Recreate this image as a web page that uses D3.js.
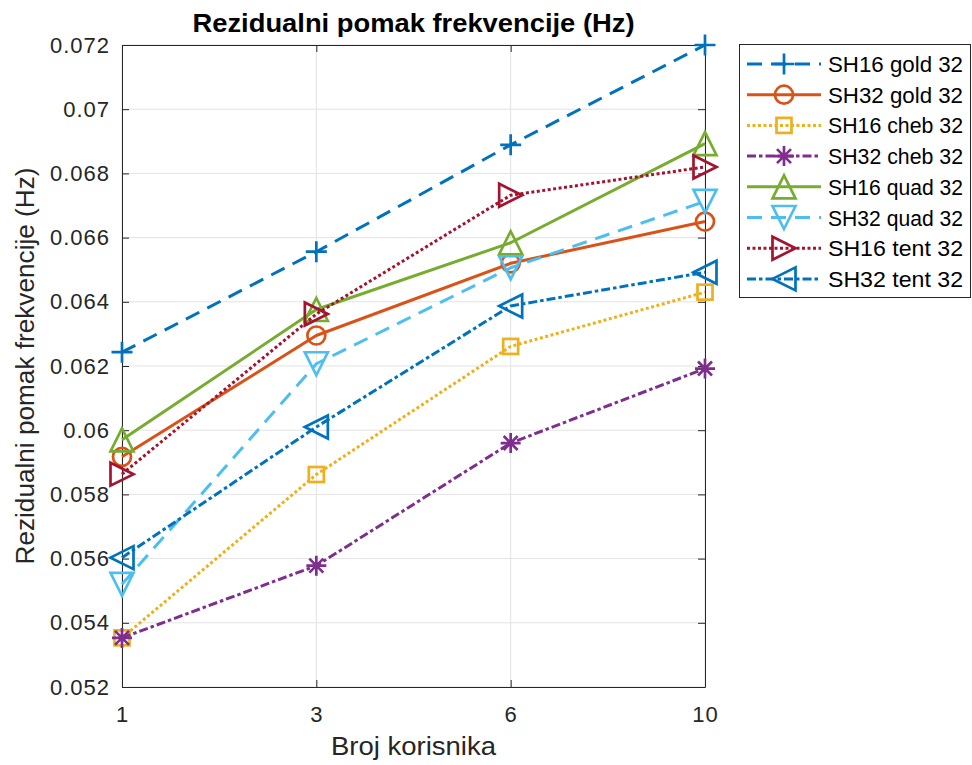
<!DOCTYPE html>
<html><head><meta charset="utf-8">
<script src="https://cdn.jsdelivr.net/npm/d3@7"></script>
<style>body{margin:0;background:#fff;} svg{display:block;font-family:"Liberation Sans",Arial,sans-serif;}</style>
</head><body>
<svg id="c" width="972" height="765"></svg>
<script>
const categories = ["1", "3", "6", "10"];
const yTicks = [0.052, 0.054, 0.056, 0.058, 0.06, 0.062, 0.064, 0.066, 0.068, 0.07, 0.072];
const yTickLabels = ["0.052","0.054","0.056","0.058","0.06","0.062","0.064","0.066","0.068","0.07","0.072"];
const seriesNames = ["SH16 gold 32","SH32 gold 32","SH16 cheb 32","SH32 cheb 32","SH16 quad 32","SH32 quad 32","SH16 tent 32","SH32 tent 32"];
const sh16gold = [0.06243, 0.06556, 0.06889, 0.0720];
const sh32gold = [0.05917, 0.06295, 0.06520, 0.06650];
const sh16cheb = [0.05353, 0.05862, 0.06261, 0.06430];
const sh32cheb = [0.05353, 0.05578, 0.05960, 0.06192];
const sh16quad = [0.05970, 0.06376, 0.06584, 0.06893];
const sh32quad = [0.05520, 0.06207, 0.06506, 0.06713];
const sh16tent = [0.05863, 0.06362, 0.06732, 0.06820];
const sh32tent = [0.05603, 0.06010, 0.06387, 0.06492];
const seriesValues = [sh16gold, sh32gold, sh16cheb, sh32cheb, sh16quad, sh32quad, sh16tent, sh32tent];

const colors = ["#0072BD","#D95319","#EDB120","#7E2F8E","#77AC30","#4DBEEE","#A2142F","#0072BD"];
const dashes = ["15,9", null, "3,2.5", "9,3,3.5,3", null, "15,9", "3,2.5", "9,3,3.5,3"];
const markers = ["plus","circle","square","star","triUp","triDown","triRight","triLeft"];

const svg = d3.select("#c");
const L = 122, R = 705, T = 45, B = 687;
const x = d3.scalePoint().domain(categories).range([L, R]).padding(0);
const y = d3.scaleLinear().domain([0.052, 0.072]).range([B, T]);

// grid
const g = svg.append("g");
g.selectAll("line.gx").data(categories).enter().append("line")
  .attr("x1", d => x(d)).attr("x2", d => x(d)).attr("y1", T).attr("y2", B)
  .attr("stroke", "#e3e3e3").attr("stroke-width", 1);
g.selectAll("line.gy").data(yTicks).enter().append("line")
  .attr("x1", L).attr("x2", R).attr("y1", d => y(d)).attr("y2", d => y(d))
  .attr("stroke", "#e3e3e3").attr("stroke-width", 1);

// axes
const axCol = "#262626";
const yAxis = d3.axisLeft(y).tickValues(yTicks).tickFormat((d, i) => yTickLabels[i]).tickSizeInner(-7).tickSizeOuter(0).tickPadding(12);
const yAxisR = d3.axisRight(y).tickValues(yTicks).tickFormat("").tickSizeInner(-7).tickSizeOuter(0);
const xAxis = d3.axisBottom(x).tickSizeInner(-7).tickSizeOuter(0).tickPadding(19);
const xAxisT = d3.axisTop(x).tickFormat("").tickSizeInner(-7).tickSizeOuter(0);
function styleAx(sel) {
  sel.selectAll("path,line").attr("stroke", axCol).attr("stroke-width", 1);
  sel.selectAll("text").attr("fill", "#262626").style("font-size", "22px").style("letter-spacing", "1px")
    .style("font-family", "'Liberation Sans',Arial,sans-serif");
}
svg.append("g").attr("transform", `translate(${L},0)`).call(yAxis).call(styleAx);
svg.append("g").attr("transform", `translate(${R},0)`).call(yAxisR).call(styleAx);
svg.append("g").attr("transform", `translate(0,${B})`).call(xAxis).call(styleAx);
svg.append("g").attr("transform", `translate(0,${T})`).call(xAxisT).call(styleAx);

// marker drawing
function drawMarker(sel, type, cx, cy, col) {
  const s = 11.5;
  let m;
  switch (type) {
    case "plus":
      m = sel.append("path").attr("d", `M${cx-10.5},${cy}H${cx+10.5}M${cx},${cy-10.5}V${cy+10.5}`); break;
    case "circle":
      m = sel.append("circle").attr("cx", cx).attr("cy", cy).attr("r", 9); break;
    case "square":
      m = sel.append("rect").attr("x", cx-7.5).attr("y", cy-7.5).attr("width", 15).attr("height", 15); break;
    case "star": {
      const a = 10, b = 7;
      m = sel.append("path").attr("d", `M${cx-a},${cy}H${cx+a}M${cx},${cy-a}V${cy+a}M${cx-b},${cy-b}L${cx+b},${cy+b}M${cx-b},${cy+b}L${cx+b},${cy-b}`); break;
    }
    case "triUp":
      m = sel.append("path").attr("d", `M${cx},${cy-s}L${cx+s},${cy+s}L${cx-s},${cy+s}Z`); break;
    case "triDown":
      m = sel.append("path").attr("d", `M${cx},${cy+s}L${cx+s},${cy-s}L${cx-s},${cy-s}Z`); break;
    case "triRight":
      m = sel.append("path").attr("d", `M${cx+s},${cy}L${cx-s},${cy-s}L${cx-s},${cy+s}Z`); break;
    case "triLeft":
      m = sel.append("path").attr("d", `M${cx-s},${cy}L${cx+s},${cy-s}L${cx+s},${cy+s}Z`); break;
  }
  m.attr("fill", "none").attr("stroke", col).attr("stroke-width", 2.7).attr("stroke-linejoin", "miter");
}

const line = d3.line().x((d, i) => x(categories[i])).y(d => y(d));
const plot = svg.append("g");
seriesValues.forEach((vals, k) => {
  plot.append("path").datum(vals).attr("d", line)
    .attr("fill", "none").attr("stroke", colors[k]).attr("stroke-width", 3)
    .attr("stroke-dasharray", dashes[k]).attr("stroke-linejoin", "round");
  vals.forEach((v, i) => drawMarker(plot, markers[k], x(categories[i]), y(v), colors[k]));
});

// title & labels
svg.append("text").attr("x", (L + R) / 2).attr("y", 32).attr("text-anchor", "middle")
  .style("font-size", "25px").style("font-weight", "bold").attr("fill", "#000")
  .attr("textLength", 442).attr("lengthAdjust", "spacingAndGlyphs")
  .text("Rezidualni pomak frekvencije (Hz)");
svg.append("text").attr("x", (L + R) / 2).attr("y", 755).attr("text-anchor", "middle")
  .style("font-size", "26px").attr("fill", "#262626")
  .attr("textLength", 165).attr("lengthAdjust", "spacingAndGlyphs").text("Broj korisnika");
svg.append("text").attr("transform", `translate(34,${(T + B) / 2}) rotate(-90)`).attr("text-anchor", "middle")
  .style("font-size", "25px").attr("fill", "#262626")
  .attr("textLength", 397).attr("lengthAdjust", "spacingAndGlyphs").text("Rezidualni pomak frekvencije (Hz)");

// legend
const lg = svg.append("g");
lg.append("rect").attr("x", 739.5).attr("y", 44.5).attr("width", 231).attr("height", 253)
  .attr("fill", "#fff").attr("stroke", "#262626").attr("stroke-width", 1);
seriesNames.forEach((name, k) => {
  const ly = 64 + k * 30.7;
  lg.append("line").attr("x1", 747).attr("x2", 821).attr("y1", ly).attr("y2", ly)
    .attr("stroke", colors[k]).attr("stroke-width", 3).attr("stroke-dasharray", dashes[k]);
  drawMarker(lg, markers[k], 784, ly, colors[k]);
  lg.append("text").attr("x", 828).attr("y", ly + 8).style("font-size", "21.5px").attr("fill", "#000")
    .attr("textLength", 135).attr("lengthAdjust", "spacingAndGlyphs").text(name);
});
</script>
</body></html>
